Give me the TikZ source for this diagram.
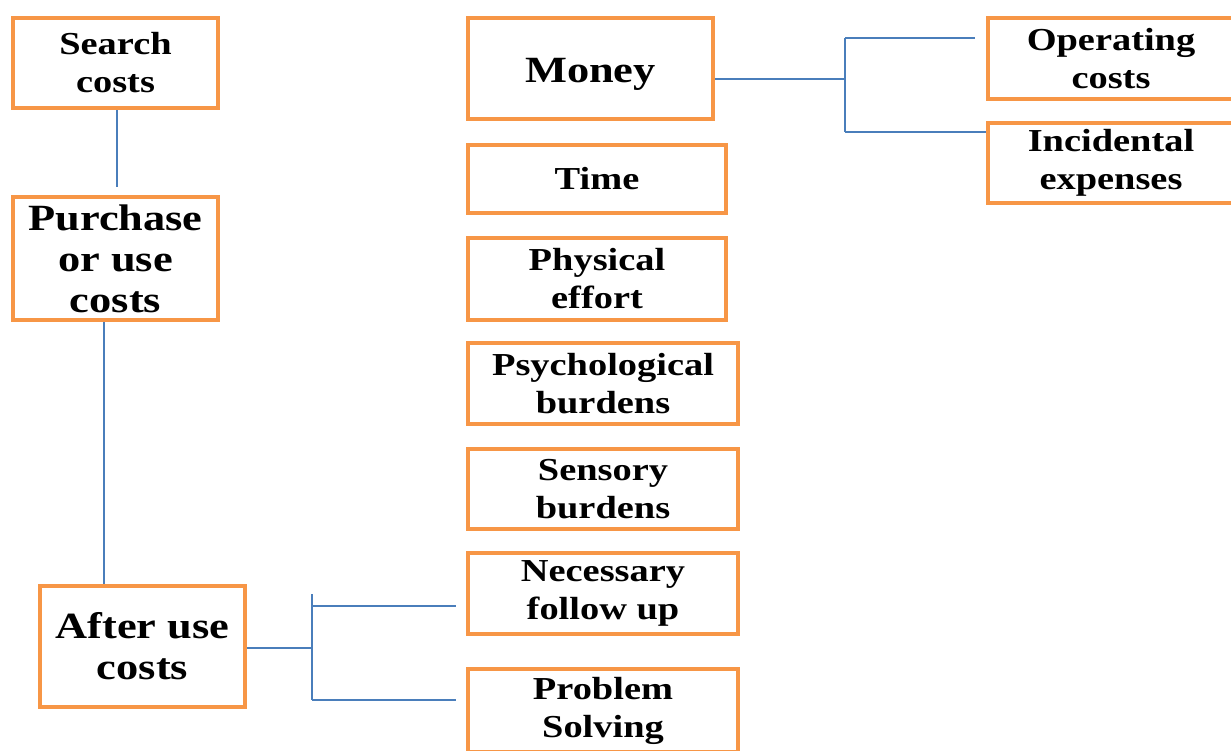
\documentclass[tikz,border=0pt]{standalone}
\usepackage{fontspec}
\newfontfamily\boxfont[FakeStretch=1.2]{Liberation Serif}
\definecolor{boxorange}{HTML}{F79646}
\definecolor{linkblue}{HTML}{4A7EBB}
\tikzset{
  cbox/.style={draw=boxorange, line width=4pt, fill=white, rectangle,
    inner sep=0pt, align=center, text=black,
    font=\boxfont\bfseries\fontsize{32}{38}\selectfont},
  bigtext/.style={font=\boxfont\bfseries\fontsize{37}{41}\selectfont},
  link/.style={draw=linkblue, line width=1.6pt}
}
\begin{document}
\begin{tikzpicture}[x=1pt, y=-1pt]
\useasboundingbox (0,0) rectangle (1231,750);
\clip (0,0) rectangle (1231,750);

% left column: the three cost stages
\node[cbox, minimum width=205pt, minimum height=90pt] (search) at (115.5,63) {Search\\costs};
\node[cbox, bigtext, minimum width=205pt, minimum height=123pt] (purchase) at (115.5,258.5) {Purchase\\or use\\costs};
\node[cbox, bigtext, minimum width=205pt, minimum height=121pt] (after) at (142.5,646.5) {After use\\costs};

% middle column: kinds of cost
\node[cbox, bigtext, text height=36pt, text depth=9pt, minimum width=245pt, minimum height=101pt] (money) at (590.5,68.5) {Money};
\node[cbox, minimum width=258pt, minimum height=68pt] (time) at (597,179) {Time};
\node[cbox, minimum width=258pt, minimum height=82pt] (physical) at (597,279) {Physical\\effort};
\node[cbox, minimum width=270pt, minimum height=81pt] (psych) at (603,383.5) {Psychological\\burdens};
\node[cbox, minimum width=270pt, minimum height=80pt] (sensory) at (603,489) {Sensory\\burdens};
\node[cbox, minimum width=270pt, minimum height=81pt] (followup) at (603,593.5) {Necessary\\follow up};
\node[cbox, minimum width=270pt, minimum height=83pt] (problem) at (603,710.5) {Problem\\Solving};

% right column: parts of money
\node[cbox, minimum width=246pt, minimum height=81pt] (operating) at (1111,58.5) {Operating\\costs};
\node[cbox, minimum width=246pt, minimum height=80pt] (incidental) at (1111,163) {Incidental\\expenses};

% stage links
\coordinate (sp) at (117,187);
\draw[link] (search.south -| sp) -- (sp);
\coordinate (pa) at (104,0);
\draw[link] (purchase.south -| pa) -- (after.north -| pa);

% money bracket
\coordinate (mj) at (845,79);
\coordinate (mtop) at (845,38);
\coordinate (mbot) at (845,132);
\coordinate (mend) at (975,38);
\draw[link] (money.east |- mj) -- (mj);
\draw[link] (mtop) -- (mbot);
\draw[link] (mtop) -- (mend);
\draw[link] (mbot) -- (incidental.west |- mbot);

% after-use bracket
\coordinate (aj) at (312,648);
\coordinate (astub) at (312,594);
\coordinate (aup) at (312,606);
\coordinate (adown) at (312,700);
\coordinate (aupend) at (456,606);
\coordinate (adownend) at (456,700);
\draw[link] (after.east |- aj) -- (aj);
\draw[link] (astub) -- (adown);
\draw[link] (aup) -- (aupend);
\draw[link] (adown) -- (adownend);
\end{tikzpicture}
\end{document}
